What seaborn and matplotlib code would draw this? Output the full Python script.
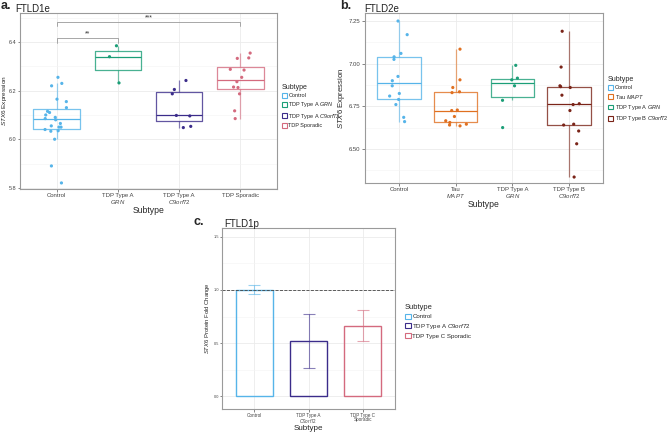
import numpy as np
import pandas as pd
import matplotlib
matplotlib.use('Agg')
import matplotlib.pyplot as plt
from matplotlib.patches import Patch
from matplotlib.ticker import AutoMinorLocator
import seaborn as sns

# %% data

# a. FTLD1e
a_order = ['Control', 'TDP Type A GRN', 'TDP Type A C9orf72', 'TDP Sporadic']
a_ticks = ['Control', 'TDP Type A\n$\\it{GRN}$', 'TDP Type A\n$\\it{C9orf72}$', 'TDP Sporadic']
a_legend = ['Control', 'TDP Type A $\\it{GRN}$', 'TDP Type A $\\it{C9orf72}$', 'TDP Sporadic']
a_control = [6.255, 6.23, 6.22, 6.165, 6.155, 6.13, 6.115, 6.11, 6.10, 6.09, 6.085,
             6.08, 6.065, 6.055, 6.05, 6.05, 6.04, 6.035, 6.033, 6.00, 5.89, 5.82]
a_grn = [6.385, 6.34, 6.232]
a_c9 = [6.242, 6.205, 6.187, 6.098, 6.096, 6.053, 6.048]
a_sporadic = [6.355, 6.335, 6.333, 6.288, 6.285, 6.255, 6.237, 6.215, 6.213, 6.187, 6.117, 6.085]
a_sig_labels = ['**', '***']
a_sig_pairs = [(0, 1), (0, 3)]
a_sig_y = [6.415, 6.483]

# b. FTLD2e
b_order = ['Control', 'Tau MAPT', 'TDP Type A GRN', 'TDP Type B C9orf72']
b_ticks = ['Control', 'Tau\n$\\it{MAPT}$', 'TDP Type A\n$\\it{GRN}$', 'TDP Type B\n$\\it{C9orf72}$']
b_legend = ['Control', 'Tau $\\it{MAPT}$', 'TDP Type A $\\it{GRN}$', 'TDP Type B $\\it{C9orf72}$']
b_control = [7.25, 7.17, 7.06, 7.04, 7.025, 6.925, 6.90, 6.87, 6.825, 6.81, 6.79, 6.76, 6.685, 6.66]
b_tau = [7.085, 6.905, 6.86, 6.835, 6.83, 6.728, 6.725, 6.69, 6.665, 6.655, 6.645, 6.64, 6.635]
b_grn = [6.99, 6.915, 6.905, 6.87, 6.785, 6.625]
b_c9 = [7.19, 6.98, 6.87, 6.865, 6.86, 6.815, 6.765, 6.76, 6.725, 6.645, 6.64, 6.605, 6.53, 6.335]

# c. FTLD1p
c_order = ['Control', 'TDP Type A C9orf72', 'TDP Type C Sporadic']
c_ticks = ['Control', 'TDP Type A\n$\\it{C9orf72}$', 'TDP Type C\nSporadic']
c_legend = ['Control', 'TDP Type A $\\it{C9orf72}$', 'TDP Type C Sporadic']
c_mean = [1.0, 0.52, 0.66]
c_low = [0.96, 0.27, 0.52]
c_high = [1.05, 0.77, 0.81]

# colours
col_control = '#56B4E9'
col_grn = '#1B9E77'
col_c9 = '#3B2C8A'
col_sporadic = '#D46A7E'
col_tau = '#E07020'
col_c9b = '#7A2418'

# %% style
sns.set_style('white')
plt.rcParams['font.family'] = ['Liberation Sans', 'DejaVu Sans']
plt.rcParams['mathtext.fontset'] = 'custom'
plt.rcParams['mathtext.rm'] = 'Liberation Sans'
plt.rcParams['mathtext.it'] = 'Liberation Sans:italic'
np.random.seed(3)

fig = plt.figure(figsize=(6.69, 4.32), dpi=100)


def long_df(groups, values):
    rows = []
    for g, v in zip(groups, values):
        for x in v:
            rows.append((g, x))
    return pd.DataFrame(rows, columns=['Subtype', 'value'])


def frame(ax):
    ax.set_axisbelow(True)
    ax.yaxis.set_minor_locator(AutoMinorLocator(2))
    ax.grid(True, which='major', color='#EBEBEB', lw=0.6)
    ax.grid(True, which='minor', axis='y', color='#F4F4F4', lw=0.4)
    ax.tick_params(which='minor', length=0)
    ax.tick_params(which='major', length=2, width=0.5, color='#555555', pad=1.2,
                   labelsize=4.3, labelcolor='#444444', bottom=True, left=True)
    for s in ax.spines.values():
        s.set_color('#9A9A9A')
        s.set_linewidth(0.8)
    for t in ax.get_xticklabels():
        t.set_linespacing(1.0)


def box_panel(ax, df, order, colors, ticks):
    sns.boxplot(data=df, x='Subtype', y='value', hue='Subtype', order=order, hue_order=order,
                palette=colors, fill=False, showfliers=False, showcaps=False, width=0.76,
                linewidth=0.9, legend=False, ax=ax,
                boxprops=dict(alpha=0.8), whiskerprops=dict(alpha=0.6))
    sns.stripplot(data=df, x='Subtype', y='value', hue='Subtype', order=order, hue_order=order,
                  palette=colors, jitter=0.2, size=2.3, legend=False, ax=ax)
    ax.set_xlim(-0.6, len(order) - 0.4)
    ax.set_xticks(range(len(order)))
    ax.set_xticklabels(ticks)
    ax.set_xlabel('Subtype', fontsize=6.2)
    ax.set_ylabel('$\\it{STX6}$ Expression', fontsize=4.6)
    frame(ax)


def legend(ax, labels, colors, x, y, fs=4.6):
    handles = [Patch(facecolor='white', edgecolor=c, lw=0.8) for c in colors]
    ax.legend(handles, labels, title='Subtype', loc='upper left', bbox_to_anchor=(x / 669, 1 - y / 432),
              bbox_transform=fig.transFigure, frameon=False, fontsize=fs, title_fontsize=fs + 1,
              handlelength=0.9, handleheight=0.9, handletextpad=0.3, labelspacing=0.4,
              alignment='left', borderpad=0)


# %% panel a
a_colors = [col_control, col_grn, col_c9, col_sporadic]
ax_a = fig.add_axes([20 / 669, 1 - 189 / 432, 257 / 669, 176 / 432])
df_a = long_df(a_order, [a_control, a_grn, a_c9, a_sporadic])
box_panel(ax_a, df_a, a_order, a_colors, a_ticks)
ax_a.set_ylim(5.795, 6.52)
ax_a.set_yticks([5.8, 6.0, 6.2, 6.4])
ax_a.tick_params(axis='y', labelsize=4.0, pad=1.0, length=1.5)
ax_a.yaxis.set_label_coords(-0.044, 0.5)
ax_a.xaxis.set_label_coords(0.5, -0.095)
for lab, (i, j), yy in zip(a_sig_labels, a_sig_pairs, a_sig_y):
    ax_a.plot([i, i, j, j], [yy - 0.017, yy, yy, yy - 0.017], color='#999999', lw=0.6)
    ax_a.text((i + j) / 2, yy + 0.004, lab, ha='center', va='bottom', fontsize=5, color='#333333')
legend(ax_a, a_legend, a_colors, 279, 81, fs=4.0)

# %% panel b
b_colors = [col_control, col_tau, col_grn, col_c9b]
ax_b = fig.add_axes([365 / 669, 1 - 183 / 432, 238 / 669, 170 / 432])
df_b = long_df(b_order, [b_control, b_tau, b_grn, b_c9])
box_panel(ax_b, df_b, b_order, b_colors, b_ticks)
ax_b.set_ylim(6.30, 7.297)
ax_b.set_yticks([6.50, 6.75, 7.00, 7.25])
ax_b.set_yticklabels(['6.50', '6.75', '7.00', '7.25'])
ax_b.set_ylabel('$\\it{STX6}$ Expression', fontsize=5.6)
ax_b.yaxis.set_label_coords(-0.075, 0.5)
ax_b.xaxis.set_label_coords(0.5, -0.1)
legend(ax_b, b_legend, b_colors, 605, 73, fs=4.1)

# %% panel c
c_colors = [col_control, col_c9, col_sporadic]
ax_c = fig.add_axes([222 / 669, 1 - 409 / 432, 173 / 669, 181 / 432])
df_c = pd.DataFrame({'Subtype': c_order, 'mean': c_mean, 'low': c_low, 'high': c_high})
sns.barplot(data=df_c, x='Subtype', y='mean', hue='Subtype', order=c_order, hue_order=c_order,
            palette=c_colors, fill=False, width=0.7, linewidth=1.0, errorbar=None,
            legend=False, ax=ax_c)
for i, row in df_c.iterrows():
    ax_c.errorbar(i, row['mean'], yerr=[[row['mean'] - row['low']], [row['high'] - row['mean']]],
                  color=c_colors[i], alpha=0.6, lw=0.8, capsize=4.5, capthick=0.8)
ax_c.axhline(1.0, ls='--', color='#444444', lw=0.6)
ax_c.set_xlim(-0.6, 2.6)
ax_c.set_ylim(-0.12, 1.583)
ax_c.set_yticks([0.0, 0.5, 1.0, 1.5])
ax_c.set_xticks(range(3))
ax_c.set_xticklabels(c_ticks)
ax_c.set_xlabel('Subtype', fontsize=5.8)
ax_c.set_ylabel('$\\it{STX6}$ Protein Fold Change', fontsize=4.2)
frame(ax_c)
for t in ax_c.get_xticklabels():
    t.set_linespacing(0.9)
ax_c.tick_params(axis='x', labelsize=3.3, pad=0.8)
ax_c.tick_params(axis='y', labelsize=2.8, length=1.5, pad=0.8)
ax_c.yaxis.set_label_coords(-0.058, 0.5)
ax_c.xaxis.set_label_coords(0.5, -0.086)
legend(ax_c, c_legend, c_colors, 402, 301, fs=4.4)

# %% panel labels / titles
fig.text(1 / 669, 1 - 0 / 432, 'a.', fontsize=9, fontweight='bold', va='top')
fig.text(15 / 669, 1 - 4 / 432, 'FTLD1e', fontsize=7, va='top', color='#222222')
fig.text(340 / 669, 1 - 0 / 432, 'b.', fontsize=9, fontweight='bold', va='top')
fig.text(364 / 669, 1 - 4 / 432, 'FTLD2e', fontsize=7, va='top', color='#222222')
fig.text(193 / 669, 1 - 216 / 432, 'c.', fontsize=9, fontweight='bold', va='top')
fig.text(224 / 669, 1 - 219 / 432, 'FTLD1p', fontsize=7, va='top', color='#222222')

plt.savefig('out.png', dpi=100)
